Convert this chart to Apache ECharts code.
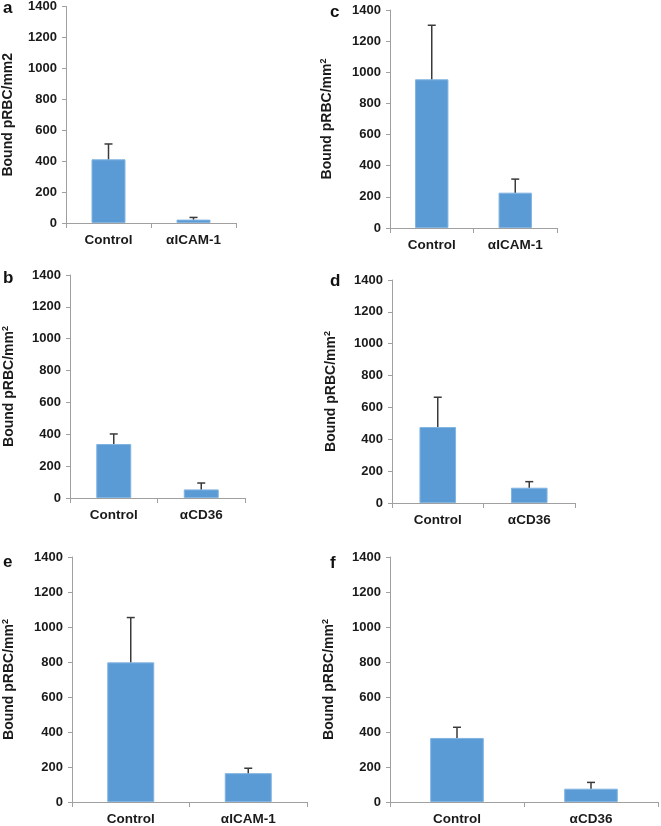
<!DOCTYPE html>
<html>
<head>
<meta charset="utf-8">
<script src="https://cdn.jsdelivr.net/npm/echarts@6/dist/echarts.min.js"></script>
<style>
html,body{margin:0;padding:0;background:#fff;}
#chart{width:661px;height:826px;}
</style>
</head>
<body>
<div id="chart"></div>
<script>
// ---- data ----
const catsICAM = ['Control', 'αICAM-1'];
const catsCD36 = ['Control', 'αCD36'];
const yTicks = [0, 200, 400, 600, 800, 1000, 1200, 1400];

const valuesA = [412, 22];
const errorsA = [99, 14];
const valuesB = [339, 54];
const errorsB = [63, 40];
const valuesC = [955, 227];
const errorsC = [347, 87];
const valuesD = [477, 96];
const errorsD = [187, 38];
const valuesE = [798, 165];
const errorsE = [256, 28];
const valuesF = [366, 76];
const errorsF = [61, 36];

const panelLetters = ['a', 'b', 'c', 'd', 'e', 'f'];

// ---- layout ----
const FONT = '"Liberation Sans", Arial, sans-serif';
const TXT = '#1a1a1a';
const AX = '#a0a0a0';
const panels = [
  {letter: panelLetters[0], cats: catsICAM, vals: valuesA, errs: errorsA, grid: {left: 62, top: 5, width: 174, height: 218}, gap: 51, sup: false, lx: 3, ly: 0},
  {letter: panelLetters[1], cats: catsCD36, vals: valuesB, errs: errorsB, grid: {left: 62, top: 275, width: 183, height: 223}, gap: 53, sup: true, lx: 3, ly: 270},
  {letter: panelLetters[2], cats: catsICAM, vals: valuesC, errs: errorsC, grid: {left: 390, top: 10, width: 167, height: 218}, gap: 55, sup: true, lx: 330, ly: 4},
  {letter: panelLetters[3], cats: catsCD36, vals: valuesD, errs: errorsD, grid: {left: 392, top: 280, width: 183, height: 223}, gap: 53, sup: true, lx: 330, ly: 273},
  {letter: panelLetters[4], cats: catsICAM, vals: valuesE, errs: errorsE, grid: {left: 64, top: 557, width: 243, height: 246}, gap: 55, sup: true, lx: 3, ly: 554},
  {letter: panelLetters[5], cats: catsCD36, vals: valuesF, errs: errorsF, grid: {left: 390, top: 557, width: 268, height: 246}, gap: 53, sup: true, lx: 330, ly: 555}
];

const grids = [], xAxes = [], yAxes = [], series = [], graphics = [];

panels.forEach((p, i) => {
  grids.push(Object.assign({containLabel: false}, p.grid));
  xAxes.push({
    type: 'category', gridIndex: i, data: p.cats,
    axisLine: {lineStyle: {color: AX, width: 1}},
    axisTick: {show: true, length: 5, lineStyle: {color: AX}},
    axisLabel: {color: TXT, fontFamily: FONT, fontWeight: 'bold', fontSize: 13.5, margin: 10}
  });
  yAxes.push({
    type: 'value', gridIndex: i, min: yTicks[0], max: yTicks[yTicks.length - 1], interval: yTicks[1] - yTicks[0],
    splitLine: {show: false},
    axisLine: {show: true, lineStyle: {color: AX, width: 1}},
    axisTick: {show: true, length: 4, lineStyle: {color: AX}},
    axisLabel: {color: TXT, fontFamily: FONT, fontWeight: 'bold', fontSize: 13, margin: 9,
      formatter: v => String(v)},
    name: p.sup ? '{t|Bound pRBC/mm}{s|2}' : '{t|Bound pRBC/mm2}',
    nameLocation: 'middle', nameGap: p.gap, nameRotate: 90,
    nameTextStyle: {
      color: TXT, fontFamily: FONT, fontWeight: 'bold', fontSize: 14,
      rich: {
        t: {color: TXT, fontFamily: FONT, fontWeight: 'bold', fontSize: 14},
        s: {color: TXT, fontFamily: FONT, fontWeight: 'bold', fontSize: 9, verticalAlign: 'top', padding: [0, 0, 7, 0]}
      }
    }
  });
  series.push({
    type: 'bar', xAxisIndex: i, yAxisIndex: i, data: p.vals, barWidth: '40%',
    itemStyle: {color: '#5b9bd5', borderColor: '#82b4e2', borderWidth: 1},
    silent: true, animation: false, z: 2
  });
  series.push({
    type: 'custom', xAxisIndex: i, yAxisIndex: i,
    data: p.vals.map((v, k) => [k, v, v + p.errs[k]]),
    renderItem: function (params, api) {
      const base = api.coord([api.value(0), api.value(1)]);
      const top = api.coord([api.value(0), api.value(2)]);
      const hw = 4;
      return {
        type: 'group',
        children: [
          {type: 'line', shape: {x1: base[0], y1: base[1], x2: top[0], y2: top[1]}, style: {stroke: '#3a3a3a', lineWidth: 1.5}},
          {type: 'line', shape: {x1: top[0] - hw, y1: top[1], x2: top[0] + hw, y2: top[1]}, style: {stroke: '#3a3a3a', lineWidth: 1.5}}
        ]
      };
    },
    silent: true, animation: false, z: 3
  });
  graphics.push({
    type: 'text', left: p.lx, top: p.ly,
    style: {text: p.letter, fill: '#111', font: 'bold 17px ' + FONT}
  });
});

const chart = echarts.init(document.getElementById('chart'), null, {renderer: 'canvas'});
chart.setOption({
  animation: false,
  backgroundColor: '#ffffff',
  grid: grids, xAxis: xAxes, yAxis: yAxes, series: series, graphic: graphics
});
</script>
</body>
</html>
